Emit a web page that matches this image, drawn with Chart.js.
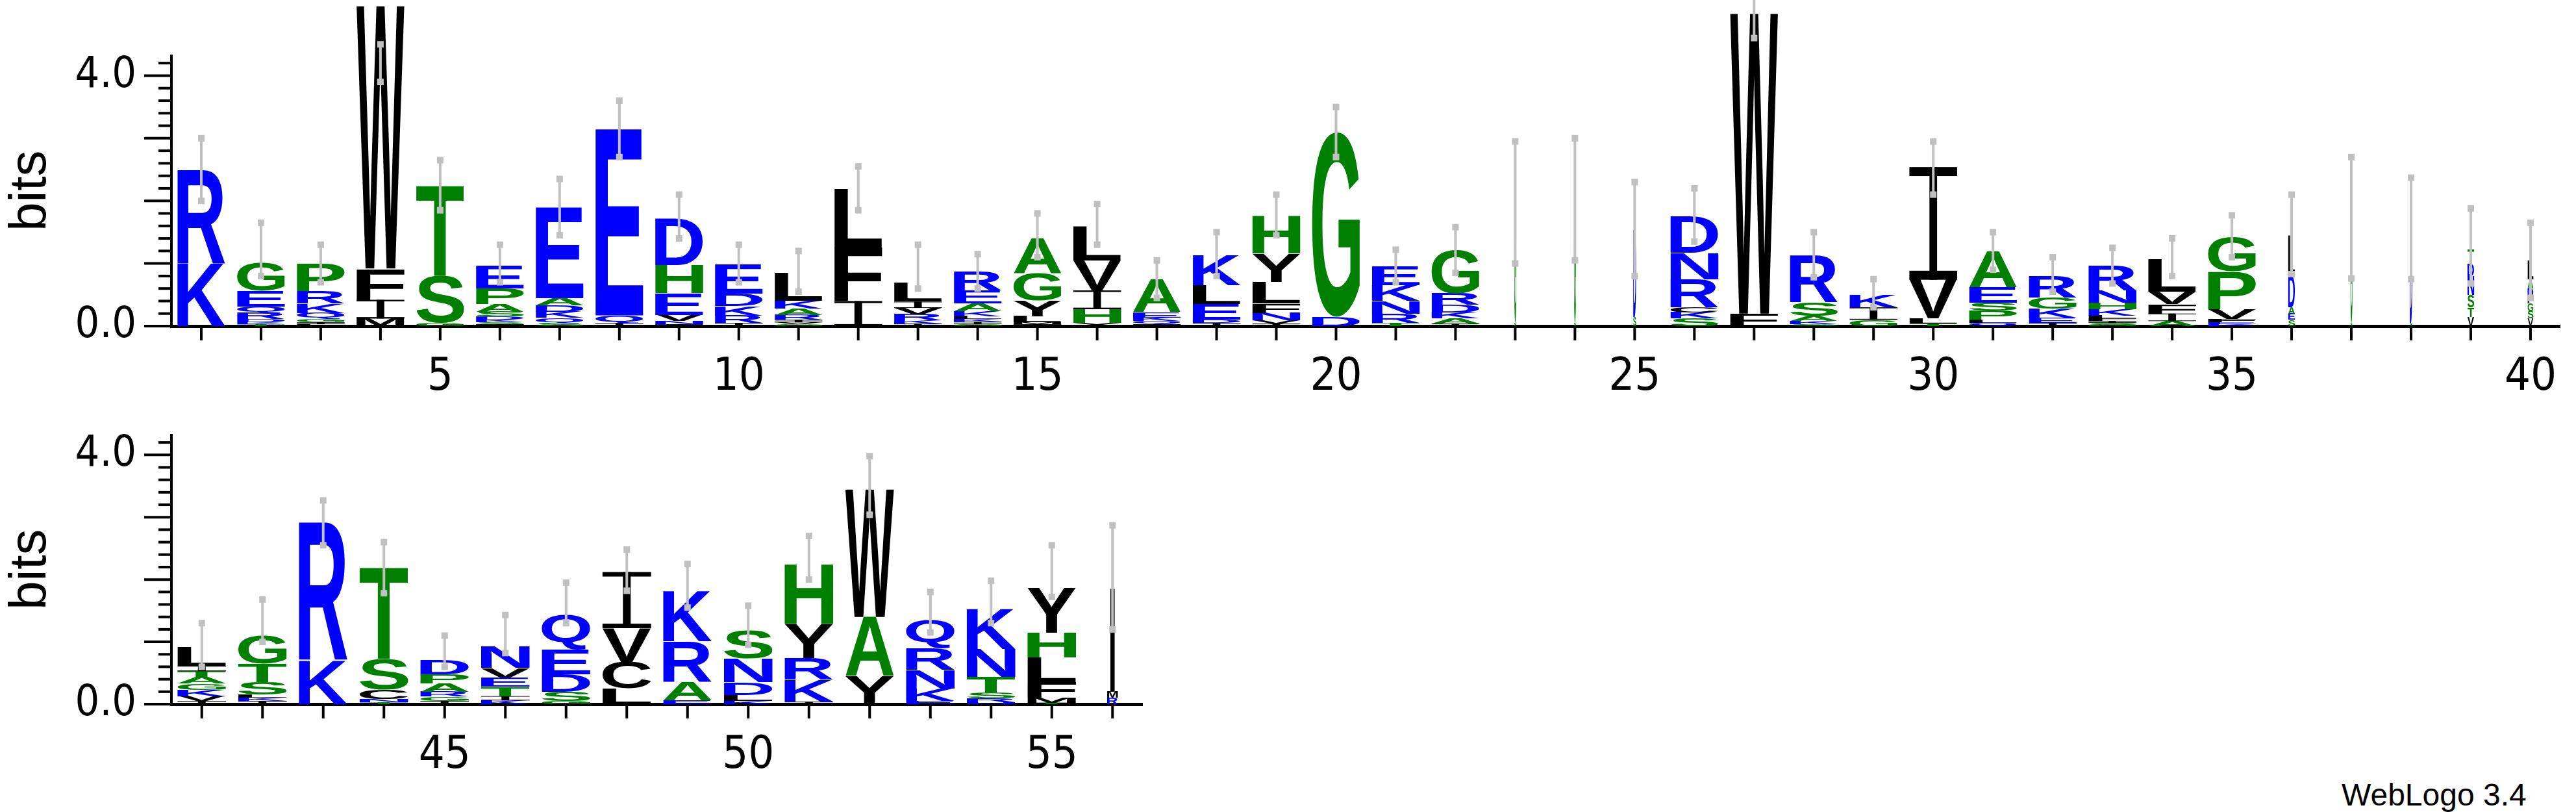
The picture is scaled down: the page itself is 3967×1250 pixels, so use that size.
<!DOCTYPE html>
<html>
<head>
<meta charset="utf-8">
<script src="https://cdn.jsdelivr.net/npm/chart.js@4"></script>
<style>
  body { margin: 0; background: #fff; width: 3967px; height: 1250px; overflow: hidden; position: relative; }
  .box { position: absolute; left: 0; }
  #credit { position: absolute; left: 3606px; top: 1196px; font: 48px "Liberation Sans", Arial, sans-serif; }
</style>
</head>
<body>
<div class="box" style="top:0;width:3967px;height:620px"><canvas id="top"></canvas></div>
<div class="box" style="top:584px;width:1760px;height:618px"><canvas id="bottom"></canvas></div>
<div id="credit">WebLogo 3.4</div>
<script>
// positions 1-40 (top row), letters listed bottom -> top
const topLetters = ["KR", "TKDRQEG", "LIGQKRP", "MIFW", "GST", "ISKDSAPE", "SQKDAE", "IQE", "INVEHD", "IRKDE",
  "GVIRAKL", "IFL", "IKRVIL", "GIKLKAER", "IMLYGA", "YHIVL", "IQKEA", "IDELK", "IVNFLYH", "DG",
  "TRNKE", "IAKDRG", "SG", "SG", "SD", "SKCRND", "FW", "SKASR", "GIK", "TLVI",
  "QLPSEA", "IEKGR", "GSIFLKHNR", "AIFVL", "KEFVPG", "SEADL", "SG", "SD", "VTSNDT", "VSGFDAL"];
const topHeights = [[1.0, 1.5], [.03, .03, .05, .1, .1, .25, .45], [.03, .03, .05, .1, .15, .2, .44], [.12, .3, .5, 4.2], [.05, .75, 1.44], [.03, .03, .04, .05, .08, .12, .25, .36], [.05, .08, .1, .1, .12, 1.45], [.05, .12, 2.98], [.03, .05, .1, .35, .45, .75], [.05, .12, .15, .2, .46],
  [.03, .03, .04, .08, .1, .12, .45], [.4, .85, .95], [.04, .05, .1, .1, .1, .31], [.03, .04, .04, .05, .08, .12, .21, .3], [.03, .03, .1, .25, .43, .56], [.05, .22, .3, .48, .55], [.03, .05, .06, .08, .52], [.05, .05, .25, .3, .48], [.04, .05, .12, .15, .35, .45, .6], [.15, 2.95],
  [.05, .15, .2, .25, .3], [.04, .08, .1, .12, .18, .7], [.05, 1.95], [.05, 1.95], [.15, 1.4], [.12, .1, .08, .45, .42, .58], [.2, 4.8], [.03, .05, .08, .22, .75], [.1, .2, .2], [.04, .08, .62, 1.8],
  [.05, .05, .15, .12, .25, .58], [.05, .08, .15, .17, .35], [.02, .03, .03, .04, .05, .1, .1, .2, .4], [.08, .12, .15, .2, .52], [.03, .03, .05, .16, .6, .55], [.1, .1, .1, .5, .65], [.05, 1.67], [.05, 1.5], [.15, .15, .2, .3, .2, .23], [.12, .12, .12, .12, .12, .15, .3]];
const topErrLow = [2.0, .8, .7, 3.9, 1.85, .7, 1.45, 2.7, 1.4, .7, .55, 1.85, .6, .6, 1.1, 1.3, .45, .8, 1.45, 2.7,
  .7, .85, 1.0, 1.05, .8, 1.35, 4.6, .78, .3, 2.1, .9, .55, .68, .8, 1.1, .83, .76, .75, .68, .45];
const topErrHigh = [3.0, 1.65, 1.3, 4.5, 2.65, 1.3, 2.35, 3.6, 2.1, 1.3, 1.2, 2.55, 1.3, 1.15, 1.8, 1.95, 1.05, 1.5, 2.1, 3.5,
  1.22, 1.58, 2.95, 3.0, 2.3, 2.2, 6.0, 1.5, .75, 2.95, 1.5, 1.1, 1.25, 1.4, 1.77, 2.1, 2.7, 2.37, 1.88, 1.65];
const topWidth = [1, 1, 1, 1, 1, 1, 1, 1, 1, 1, 1, 1, 1, 1, 1, 1, 1, 1, 1, 1,
  1, 1, .04, .04, .06, 1, 1, 1, 1, 1, 1, 1, 1, 1, 1, .14, .04, .05, .14, .12];

// positions 41-56 (bottom row)
const botLetters = ["IVKGATIL", "IKLSTG", "KR", "TNCST", "IGRAPD", "KITEVN", "GSDEQ", "LCVI", "EARK", "KLDNS",
  "IKRYH", "YAW", "EKNRQ", "URSTNK", "TMFLHY", "RMI"];
const botHeights = [[.05, .08, .1, .1, .1, .1, .08, .3], [.05, .05, .05, .2, .3, .45], [.7, 2.22], [.03, .05, .15, .5, 1.47], [.05, .07, .08, .13, .15, .22], [.06, .07, .15, .15, .15, .35], [.05, .15, .28, .4, .55], [.25, .42, .55, .9], [.06, .3, .65, .8], [.05, .1, .2, .38, .45],
  [.04, .35, .35, .55, .95], [.45, .95, 2.05], [.05, .2, .3, .35, .45], [.03, .06, .1, .25, .45, .65], [.02, .08, .25, .4, .4, .72], [.1, .1, 1.65]];
const botErrLow = [.6, 1.0, 2.55, 1.78, .6, .82, 1.3, 1.82, 1.55, .95, 2.0, 3.04, 1.15, 1.3, 1.72, 1.2];
const botErrHigh = [1.3, 1.68, 3.27, 2.6, 1.1, 1.43, 1.95, 2.48, 2.25, 1.58, 2.7, 3.98, 1.8, 1.98, 2.55, 2.87];
const botWidth = [1, 1, 1, 1, 1, 1, 1, 1, 1, 1, 1, 1, 1, 1, 1, .22];

const blue = "#0000ff", green = "#008000", black = "#000000";
function letterColor(ch) {
  if ("RKDENQU".includes(ch)) return blue;
  if ("GSTHAP".includes(ch)) return green;
  return black;
}

const glyphFont = "bold 200px 'Liberation Sans', Arial, sans-serif";

function drawLetter(ctx, ch, x, yBottom, w, h) {
  if (h < 0.5 || w < 0.5) return;
  ctx.save();
  ctx.fillStyle = letterColor(ch);
  if (ch === "I") {
    // serif I like WebLogo; plain stem in very narrow columns
    if (w < 24) {
      ctx.fillRect(x + w * 0.3, yBottom - h, Math.max(2, w * 0.4), h);
      ctx.restore();
      return;
    }
    const bar = Math.max(1, Math.min(h * 0.08, 14));
    const stem = Math.max(1, w * 0.16);
    ctx.fillRect(x, yBottom - h, w, bar);
    ctx.fillRect(x, yBottom - bar, w, bar);
    ctx.fillRect(x + (w - stem) / 2, yBottom - h, stem, h);
    ctx.restore();
    return;
  }
  ctx.font = glyphFont;
  const m = ctx.measureText(ch);
  const gw = m.actualBoundingBoxLeft + m.actualBoundingBoxRight;
  const gh = m.actualBoundingBoxAscent + m.actualBoundingBoxDescent;
  ctx.translate(x, yBottom);
  ctx.scale(w / gw, h / gh);
  ctx.textBaseline = "alphabetic";
  ctx.fillText(ch, m.actualBoundingBoxLeft, -m.actualBoundingBoxDescent);
  ctx.restore();
}

const logoPlugin = {
  id: "logo",
  afterDatasetsDraw(chart) {
    const { ctx, scales } = chart;
    const o = chart.options.plugins.logo;
    const bars = chart.getDatasetMeta(0).data;
    const ys = scales.y;
    // stacks of letters
    bars.forEach((bar, i) => {
      const w = bar.width * o.widths[i];
      const left = bar.x - w / 2;
      let base = 0;
      o.letters[i].split("").forEach((ch, j) => {
        const hgt = o.heights[i][j];
        const yb = ys.getPixelForValue(base);
        const yt = ys.getPixelForValue(base + hgt);
        drawLetter(ctx, ch, left, yb, w, yb - yt);
        base += hgt;
      });
    });
    // error bars
    ctx.save();
    ctx.strokeStyle = "#c0c0c0";
    ctx.fillStyle = "#c0c0c0";
    ctx.lineWidth = 4;
    bars.forEach((bar, i) => {
      const y1 = ys.getPixelForValue(o.errLow[i]);
      const y2 = ys.getPixelForValue(o.errHigh[i]);
      ctx.beginPath();
      ctx.moveTo(bar.x, y1);
      ctx.lineTo(bar.x, y2);
      ctx.stroke();
      ctx.fillRect(bar.x - 5, y1 - 5, 10, 10);
      ctx.fillRect(bar.x - 5, y2 - 5, 10, 10);
    });
    ctx.restore();
    // axis tick marks
    ctx.save();
    ctx.strokeStyle = "#000";
    ctx.lineWidth = 4;
    const ax = chart.chartArea.left;
    for (let v = 0; v <= 4.3; v += 0.2) {
      const y = ys.getPixelForValue(v);
      const major = Math.abs(v - Math.round(v)) < 1e-6;
      ctx.beginPath();
      ctx.moveTo(ax - (major ? 42 : 20), y);
      ctx.lineTo(ax, y);
      ctx.stroke();
    }
    const by = chart.chartArea.bottom;
    bars.forEach((bar) => {
      ctx.beginPath();
      ctx.moveTo(bar.x, by);
      ctx.lineTo(bar.x, by + 22);
      ctx.stroke();
    });
    ctx.restore();
  }
};

function makeLogo(id, firstPos, letters, heights, errLow, errHigh, widths) {
  const labels = letters.map((_, i) => String(firstPos + i));
  const totals = heights.map(h => h.reduce((a, b) => a + b, 0));
  new Chart(document.getElementById(id), {
    type: "bar",
    data: { labels, datasets: [{ data: totals, backgroundColor: "rgba(0,0,0,0)", barPercentage: 0.8, categoryPercentage: 1 }] },
    plugins: [logoPlugin],
    options: {
      responsive: true,
      maintainAspectRatio: false,
      animation: false,
      layout: { padding: { top: 50, right: 0, left: 0, bottom: 0 } },
      plugins: {
        legend: { display: false },
        tooltip: { enabled: false },
        logo: { letters, heights, errLow, errHigh, widths }
      },
      scales: {
        x: {
          offset: true,
          grid: { display: false },
          border: { color: "#000", width: 5 },
          afterFit: (s) => { s.height = 118; },
          ticks: {
            autoSkip: false, maxRotation: 0, color: "#000", padding: 30,
            font: { size: 70, family: "'Liberation Sans Narrow', 'DejaVu Sans Condensed', sans-serif" },
            callback: function (val) { const l = Number(this.getLabelForValue(val)); return l % 5 === 0 ? String(l) : ""; }
          }
        },
        y: {
          min: 0, max: 4.32,
          grid: { display: false },
          border: { color: "#000", width: 4 },
          afterFit: (s) => { s.width = 264; },
          title: { display: true, text: "bits", color: "#000", padding: { top: 0, bottom: 52 }, font: { size: 80, family: "'Liberation Sans', Arial, sans-serif" } },
          ticks: {
            stepSize: 0.2, color: "#000", padding: 46,
            font: { size: 66, family: "'Liberation Sans Narrow', 'DejaVu Sans Condensed', sans-serif" },
            callback: (v) => Math.abs(v - Math.round(v)) < 1e-6 ? v.toFixed(1) : ""
          }
        }
      }
    }
  });
}

makeLogo("top", 1, topLetters, topHeights, topErrLow, topErrHigh, topWidth);
makeLogo("bottom", 41, botLetters, botHeights, botErrLow, botErrHigh, botWidth);
</script>
</body>
</html>
